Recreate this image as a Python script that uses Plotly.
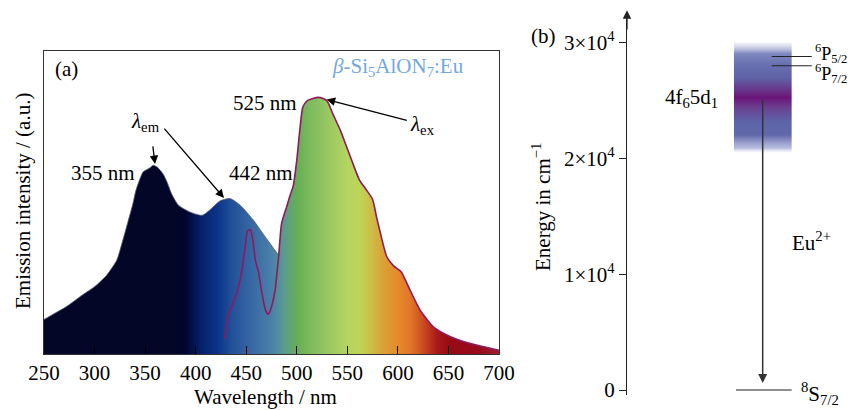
import plotly.graph_objects as go

# ---------------- data: panel (a) ----------------
ex_wl = [250, 260, 272, 288, 300, 312, 322, 328, 333, 338, 341, 345, 348, 355, 358, 362,
         368, 372, 376, 383, 394, 403, 407, 414, 424, 434, 444, 457, 470, 482]
ex_int = [0.114, 0.133, 0.156, 0.195, 0.222, 0.260, 0.310, 0.376, 0.436, 0.497, 0.541, 0.579,
          0.601, 0.615, 0.623, 0.617, 0.593, 0.565, 0.530, 0.491, 0.469, 0.459, 0.458, 0.475,
          0.505, 0.513, 0.491, 0.442, 0.381, 0.326]

em_wl = [429, 432, 437, 444, 449, 451, 454, 456, 459, 462, 465, 469, 472, 475, 478.5, 482,
         485, 490, 493, 496.5, 500, 503, 506, 510, 516, 521, 526, 530, 536, 543, 553, 562,
         569, 575, 579, 582, 589, 596, 603, 612, 622, 635, 652, 668, 685, 700]
em_int = [0.05, 0.13, 0.167, 0.244, 0.354, 0.404, 0.411, 0.387, 0.31, 0.272, 0.211, 0.145,
          0.131, 0.156, 0.211, 0.321, 0.431, 0.486, 0.52, 0.555, 0.64, 0.739, 0.815, 0.835,
          0.843, 0.847, 0.843, 0.835, 0.79, 0.739, 0.651, 0.574, 0.541, 0.51, 0.45, 0.409,
          0.321, 0.29, 0.272, 0.211, 0.145, 0.090, 0.057, 0.038, 0.024, 0.012]

x_ticks = [250, 300, 350, 400, 450, 500, 550, 600, 650, 700]

# spectrum colours (wavelength, colour)
spec_wl = [250, 379, 390, 405, 421, 435, 450, 475, 487, 500, 514, 530, 550, 562, 573, 586,
           600, 613, 626, 639, 652, 679, 700]
spec_col = ["#030626", "#030626", "#000430", "#06206a", "#0a3388", "#204f98", "#3262a2",
            "#4a80a8", "#5a9a90", "#66ae55", "#7dbb5e", "#98c662", "#b4d560", "#bcd658",
            "#cdbf48", "#dca035", "#e58a2c", "#e07528", "#c84820", "#a81818", "#980a14",
            "#980a1c", "#a02030"]

peak_labels = ["355 nm", "442 nm", "525 nm"]

# ---------------- data: panel (b) ----------------
band_low, band_high = 20500, 30000      # 4f6 5d1 band (cm-1)
band_centre = 25200
level_6P52 = 28800
level_6P72 = 28000
level_8S = 0
e_ticks = [0, 10000, 20000, 30000]
e_ticktext = ["0", "1×10<sup>4</sup>", "2×10<sup>4</sup>", "3×10<sup>4</sup>"]

FONT = "Liberation Serif"
FS = 21

lo, hi = spec_wl[0], spec_wl[-1]
cscale = [[(w - lo) / (hi - lo), c] for w, c in zip(spec_wl, spec_col)]
grad = dict(type="horizontal", colorscale=cscale, start=lo, stop=hi)

fig = go.Figure()

fig.add_trace(go.Scatter(x=ex_wl, y=ex_int, mode="lines", fill="tozeroy", fillgradient=grad,
                         line=dict(color="rgba(80,90,115,0.8)", width=1, shape="spline", smoothing=0.6),
                         xaxis="x", yaxis="y", showlegend=False, hoverinfo="skip"))
fig.add_trace(go.Scatter(x=em_wl, y=em_int, mode="lines", fill="tozeroy", fillgradient=grad,
                         line=dict(color="#8e1a5e", width=1.6, shape="spline", smoothing=0.6),
                         xaxis="x", yaxis="y", showlegend=False, hoverinfo="skip"))

# band in panel b
bx0, bx1 = 0.484, 0.745
band_scale = [[0.0, "rgba(215,218,240,0.15)"], [0.04, "rgba(160,168,212,0.75)"],
              [0.16, "#6068aa"], [0.28, "#5e64a8"], [0.41, "#6a4090"], [0.5, "#6a1578"],
              [0.58, "#683a8e"], [0.68, "#5f62a6"], [0.8, "#6870b0"], [0.9, "#8088c0"],
              [1.0, "rgba(205,208,232,0.3)"]]
fig.add_trace(go.Scatter(x=[bx0, bx1, bx1, bx0, bx0],
                         y=[band_low, band_low, band_high, band_high, band_low],
                         mode="lines", fill="toself", line=dict(width=0),
                         fillgradient=dict(type="vertical", colorscale=band_scale,
                                           start=band_low, stop=band_high),
                         xaxis="x2", yaxis="y2", showlegend=False, hoverinfo="skip"))

# level lines
for (x0, x1, e) in [(0.655, 0.836, level_6P52), (0.655, 0.836, level_6P72), (0.493, 0.745, level_8S)]:
    fig.add_trace(go.Scatter(x=[x0, x1], y=[e, e], mode="lines",
                             line=dict(color="#222", width=1.2),
                             xaxis="x2", yaxis="y2", showlegend=False, hoverinfo="skip"))

font = dict(family=FONT, size=FS, color="black")
small_font = dict(family=FONT, size=18, color="black")


def txt(x, y, text, xref="x", yref="y", **kw):
    d = dict(x=x, y=y, xref=xref, yref=yref, text=text, showarrow=False, font=font,
             xanchor="center", yanchor="middle")
    d.update(kw)
    return d


ann = []
# panel a texts
ann.append(txt(308.7, 0.596, peak_labels[0]))
ann.append(txt(464.3, 0.598, peak_labels[1]))
ann.append(txt(468.6, 0.827, peak_labels[2]))
ann.append(txt(272.4, 0.94, "(a)"))
ann.append(txt(600.4, 0.948, "<i>β</i>-Si<sub>5</sub>AlON<sub>7</sub>:Eu",
               font=dict(family=FONT, size=FS, color="#72a8e0")))
ann.append(txt(349.9, 0.765, "<i>λ</i><sub>em</sub>"))
ann.append(txt(624.5, 0.756, "<i>λ</i><sub>ex</sub>"))
arrow = dict(showarrow=True, arrowhead=2, arrowsize=1.3, arrowwidth=1.3, arrowcolor="black",
             text="", xref="x", yref="y", axref="x", ayref="y")
ann.append(dict(x=428.0, y=0.515, ax=367.7, ay=0.749, **arrow))
ann.append(dict(x=359.8, y=0.627, ax=357.5, ay=0.69, **arrow))
ann.append(dict(x=529.6, y=0.840, ax=610.3, ay=0.770, **arrow))

# axis titles (panel a)
ann.append(txt(265 / 848, 1 - 397 / 410, "Wavelength / nm", xref="paper", yref="paper"))
ann.append(txt(23 / 848, 1 - 201 / 410, "Emission intensity / (a.u.)", xref="paper",
               yref="paper", textangle=-90))

# panel b texts
ann.append(txt(543 / 848, 1 - 36 / 410, "(b)", xref="paper", yref="paper"))
ann.append(txt(541 / 848, 1 - 207 / 410, "Energy in cm<sup>−1</sup>", xref="paper",
               yref="paper", textangle=-90))
ann.append(txt(0.293, band_centre, "4f<sub>6</sub>5d<sub>1</sub>", xref="x2", yref="y2"))
ann.append(txt(0.84, level_6P52 + 300, "<sup>6</sup>P<sub>5/2</sub>", xref="x2", yref="y2",
               xanchor="left", font=small_font))
ann.append(txt(0.84, level_6P72 - 700, "<sup>6</sup>P<sub>7/2</sub>", xref="x2", yref="y2",
               xanchor="left", font=small_font))
ann.append(txt(0.78, level_8S - 300, "<sup>8</sup>S<sub>7/2</sub>", xref="x2", yref="y2",
               xanchor="left"))
ann.append(txt(0.836, 12800, "Eu<sup>2+</sup>", xref="x2", yref="y2"))
# emission arrow in b
ann.append(dict(x=0.614, y=level_8S + 600, ax=0.614, ay=band_centre, xref="x2", yref="y2",
                axref="x2", ayref="y2", text="", showarrow=True, arrowhead=2, arrowsize=1.2,
                arrowwidth=1.5, arrowcolor="#333"))
# axis arrow head
ann.append(dict(x=0, y=32800, ax=0, ay=31000, xref="x2", yref="y2", axref="x2", ayref="y2",
                text="", showarrow=True, arrowhead=2, arrowsize=1.3, arrowwidth=1.3,
                arrowcolor="#222"))

fig.update_layout(
    template="none",
    width=848, height=410, margin=dict(l=0, r=0, t=0, b=0, autoexpand=False),
    paper_bgcolor="white", plot_bgcolor="white",
    font=dict(family=FONT, size=FS, color="black"),
    xaxis=dict(domain=[44 / 848, 499 / 848], range=[250, 700], tickvals=x_ticks,
               ticks="inside", ticklen=8, tickwidth=1.2, tickcolor="black",
               showline=True, mirror=True, linecolor="#333", linewidth=1.2, automargin=False,
               showgrid=False, zeroline=False, anchor="y", tickfont=font),
    yaxis=dict(domain=[1 - 354 / 410, 1 - 51 / 410], range=[0, 1], showticklabels=False,
               ticks="", showline=True, mirror=True, linecolor="#333", linewidth=1.2,
               automargin=False, showgrid=False, zeroline=False, anchor="x"),
    xaxis2=dict(domain=[627 / 848, 1], range=[0, 1], visible=False, anchor="y2",
                automargin=False),
    yaxis2=dict(domain=[1 - 395 / 410, 1 - 14 / 410], range=[-432, 32470], anchor="x2",
                tickvals=e_ticks, ticktext=e_ticktext, ticks="outside", ticklen=7,
                tickcolor="#222", showline=True, linecolor="#222", linewidth=1.3,
                automargin=False, showgrid=False, zeroline=False, tickfont=font),
    annotations=ann,
)

fig.write_html("out.html")
